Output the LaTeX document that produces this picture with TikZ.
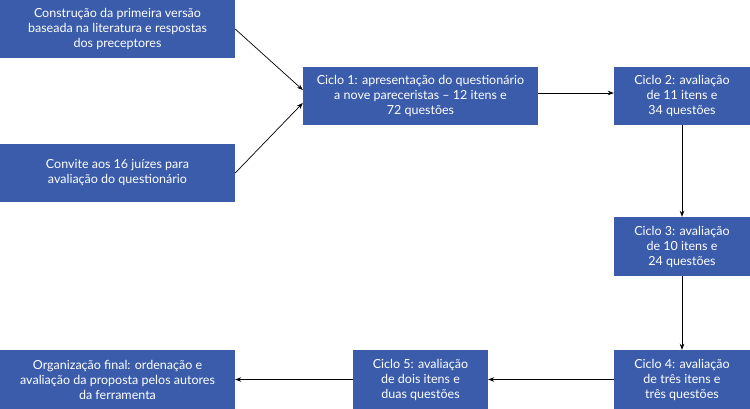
\documentclass[tikz,border=0pt]{standalone}
\usepackage{fontspec}
\setmainfont{Lato}
\usetikzlibrary{arrows.meta}
\definecolor{boxblue}{RGB}{58,92,170}
\tikzset{
  box/.style={fill=boxblue, text=white, align=center, inner sep=0pt,
    font=\fontsize{12.5}{15}\selectfont},
  conn/.style={draw=black, line width=0.7pt, -{Stealth[length=6pt,width=4.5pt]}}
}
\begin{document}
\begin{tikzpicture}[x=1pt,y=-1pt]
\useasboundingbox (0,0) rectangle (750,409);
\node[box, minimum width=235pt, minimum height=58pt] (a) at (117.5,29) {Construção da primeira versão\\baseada na literatura e respostas\\dos preceptores};
\node[box, minimum width=235pt, minimum height=58pt] (b) at (117.5,173) {Convite aos 16 juízes para\\avaliação do questionário};
\node[box, minimum width=235pt, minimum height=58pt] (c1) at (420.5,96) {Ciclo 1: apresentação do questionário\\a nove pareceristas -- 12 itens e\\72 questões};
\node[box, minimum width=136pt, minimum height=58pt] (c2) at (682,96) {Ciclo 2: avaliação\\de 11 itens e\\34 questões};
\node[box, minimum width=136pt, minimum height=59pt] (c3) at (682,246.5) {Ciclo 3: avaliação\\de 10 itens e\\24 questões};
\node[box, minimum width=136pt, minimum height=59pt] (c4) at (682,379.5) {Ciclo 4: avaliação\\de três itens e\\três questões};
\node[box, minimum width=135pt, minimum height=59pt] (c5) at (420.5,379.5) {Ciclo 5: avaliação\\de dois itens e\\duas questões};
\node[box, minimum width=235pt, minimum height=59pt] (org) at (117.5,379.5) {Organização final: ordenação e\\avaliação da proposta pelos autores\\da ferramenta};
\draw[conn] (a.east) -- ([yshift=6pt]c1.west);
\draw[conn] (b.east) -- ([yshift=-7pt]c1.west);
\draw[conn] ([yshift=3pt]c1.east) -- ([yshift=3pt]c2.west);
\draw[conn] (c2.south) -- (c3.north);
\draw[conn] (c3.south) -- (c4.north);
\draw[conn] (c4.west) -- (c5.east);
\draw[conn] (c5.west) -- (org.east);
\end{tikzpicture}
\end{document}
